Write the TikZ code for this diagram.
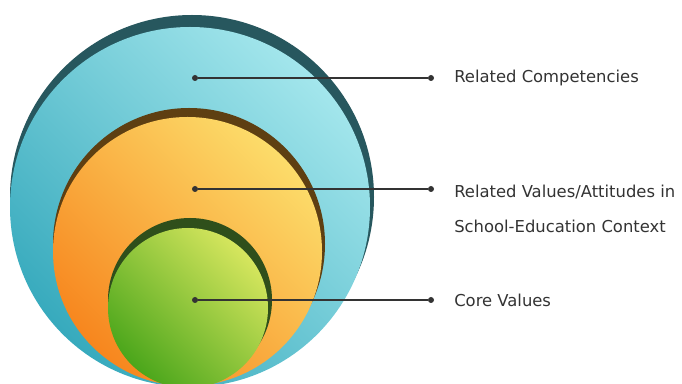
\documentclass[tikz,border=0pt]{standalone}
\usepackage{fontspec}
\setmainfont{DejaVu Sans}
\usepackage{xcolor}

\definecolor{blueLight}{HTML}{A3E6EC}
\definecolor{blueDeep}{HTML}{37AABD}
\definecolor{blueShadow}{HTML}{27575E}
\definecolor{orangeLight}{HTML}{FCDC6A}
\definecolor{orangeDeep}{HTML}{F7861E}
\definecolor{orangeShadow}{HTML}{5E3F12}
\definecolor{greenLight}{HTML}{D6E65E}
\definecolor{greenDeep}{HTML}{4BA61B}
\definecolor{greenShadow}{HTML}{2F4F1B}
\definecolor{leaderGray}{HTML}{333333}

\tikzset{
    dot/.style={circle, fill=leaderGray, inner sep=0pt, minimum size=4.5pt},
    leader/.style={draw=leaderGray, line width=0.8pt},
    tag/.style={anchor=west, font=\fontsize{12.3pt}{14pt}\selectfont, text=leaderGray, inner sep=0pt}
}

\begin{document}
\begin{tikzpicture}[x=0.75pt, y=-0.75pt]
    % Frame
    \useasboundingbox (0,0) rectangle (682,384);
    \clip (0,0) rectangle (682,384);

    % Outer circle
    \fill[blueShadow] (192,197) circle (182);
    \shade[left color=blueLight, right color=blueDeep, shading angle=-45] (190,207) circle (180);

    % Middle circle
    \fill[orangeShadow] (189,244) circle (136);
    \shade[left color=orangeLight, right color=orangeDeep, shading angle=-45] (187.5,251.5) circle (134.5);

    % Inner circle
    \fill[greenShadow] (190,300) circle (82);
    \shade[left color=greenLight, right color=greenDeep, shading angle=-45] (188,308) circle (80);

    % Leader lines
    \foreach \y/\n in {78/1, 189/2, 300/3}
    {
        \node[dot] (in\n) at (195,\y) {};
        \node[dot] (out\n) at (431,\y) {};
        \draw[leader] (in\n) -- (out\n);
    }

    % Labels
    \node[tag] (competencies) at (454,78) {Related Competencies};
    \node[tag] (attitudes) at (454,192) {Related Values/Attitudes in};
    \node[tag] (context) at (454,226) {School-Education Context};
    \node[tag] (core) at (454,300) {Core Values};
\end{tikzpicture}
\end{document}
